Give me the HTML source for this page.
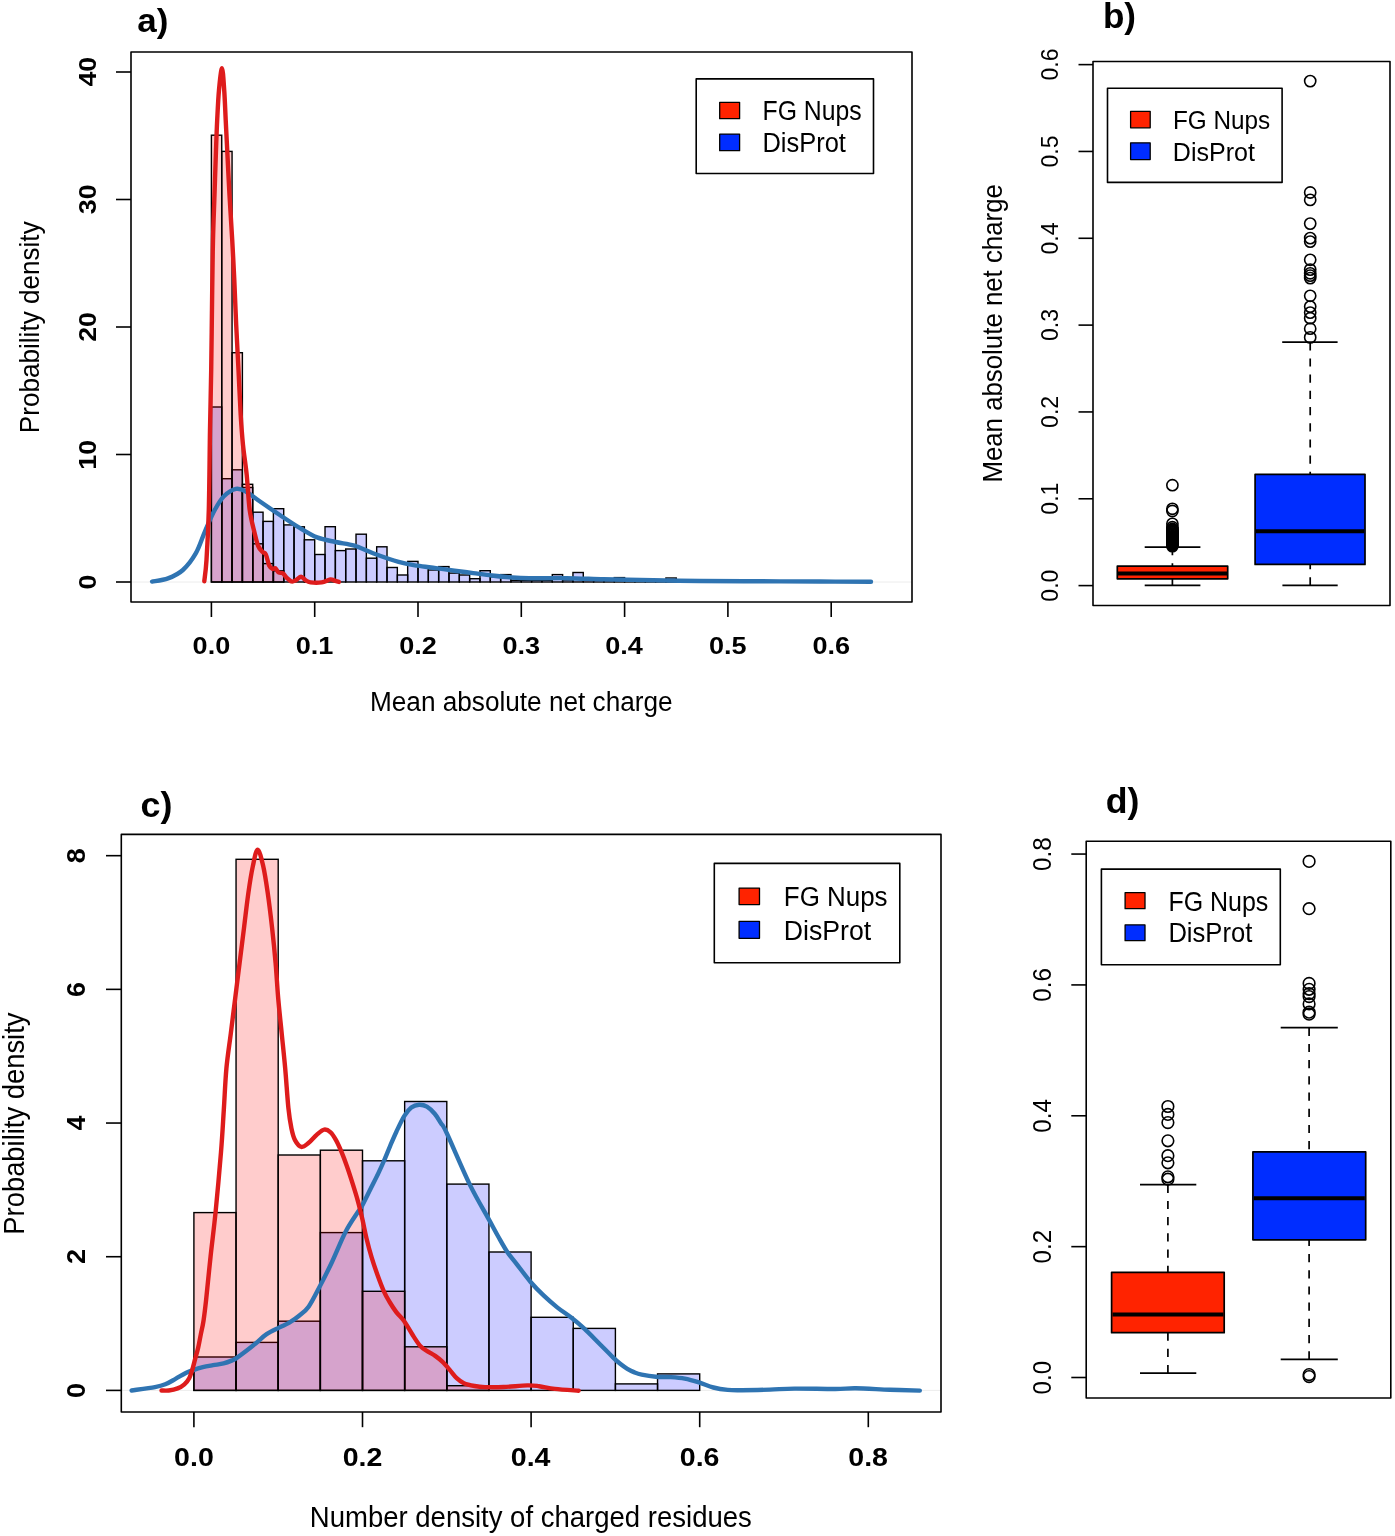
<!DOCTYPE html>
<html><head><meta charset="utf-8"><title>Figure</title>
<style>
html,body{margin:0;padding:0;background:#fff;}
body{width:1395px;height:1536px;overflow:hidden;}
svg{display:block;font-family:"Liberation Sans", sans-serif;-webkit-font-smoothing:antialiased;will-change:transform;}
</style></head>
<body>
<svg width="1395" height="1536" viewBox="0 0 1395 1536">
<rect x="0" y="0" width="1395" height="1536" fill="#fff"/>
<line x1="131.00" y1="582.00" x2="912.00" y2="582.00" stroke="#ececec" stroke-width="1" stroke-linecap="butt"/>
<rect x="211.40" y="407.00" width="10.33" height="175.00" fill="rgba(0,0,255,0.2)" stroke="#000" stroke-width="1.4"/>
<rect x="221.73" y="478.70" width="10.33" height="103.30" fill="rgba(0,0,255,0.2)" stroke="#000" stroke-width="1.4"/>
<rect x="232.06" y="469.80" width="10.33" height="112.20" fill="rgba(0,0,255,0.2)" stroke="#000" stroke-width="1.4"/>
<rect x="242.39" y="487.50" width="10.33" height="94.50" fill="rgba(0,0,255,0.2)" stroke="#000" stroke-width="1.4"/>
<rect x="252.72" y="512.20" width="10.33" height="69.80" fill="rgba(0,0,255,0.2)" stroke="#000" stroke-width="1.4"/>
<rect x="263.05" y="521.40" width="10.33" height="60.60" fill="rgba(0,0,255,0.2)" stroke="#000" stroke-width="1.4"/>
<rect x="273.38" y="508.70" width="10.33" height="73.30" fill="rgba(0,0,255,0.2)" stroke="#000" stroke-width="1.4"/>
<rect x="283.71" y="524.90" width="10.33" height="57.10" fill="rgba(0,0,255,0.2)" stroke="#000" stroke-width="1.4"/>
<rect x="294.04" y="526.80" width="10.33" height="55.20" fill="rgba(0,0,255,0.2)" stroke="#000" stroke-width="1.4"/>
<rect x="304.37" y="539.80" width="10.33" height="42.20" fill="rgba(0,0,255,0.2)" stroke="#000" stroke-width="1.4"/>
<rect x="314.70" y="554.50" width="10.33" height="27.50" fill="rgba(0,0,255,0.2)" stroke="#000" stroke-width="1.4"/>
<rect x="325.03" y="526.70" width="10.33" height="55.30" fill="rgba(0,0,255,0.2)" stroke="#000" stroke-width="1.4"/>
<rect x="335.36" y="550.60" width="10.33" height="31.40" fill="rgba(0,0,255,0.2)" stroke="#000" stroke-width="1.4"/>
<rect x="345.69" y="549.00" width="10.33" height="33.00" fill="rgba(0,0,255,0.2)" stroke="#000" stroke-width="1.4"/>
<rect x="356.02" y="534.20" width="10.33" height="47.80" fill="rgba(0,0,255,0.2)" stroke="#000" stroke-width="1.4"/>
<rect x="366.35" y="558.20" width="10.33" height="23.80" fill="rgba(0,0,255,0.2)" stroke="#000" stroke-width="1.4"/>
<rect x="376.68" y="546.80" width="10.33" height="35.20" fill="rgba(0,0,255,0.2)" stroke="#000" stroke-width="1.4"/>
<rect x="387.01" y="567.50" width="10.33" height="14.50" fill="rgba(0,0,255,0.2)" stroke="#000" stroke-width="1.4"/>
<rect x="397.34" y="575.00" width="10.33" height="7.00" fill="rgba(0,0,255,0.2)" stroke="#000" stroke-width="1.4"/>
<rect x="407.67" y="561.40" width="10.33" height="20.60" fill="rgba(0,0,255,0.2)" stroke="#000" stroke-width="1.4"/>
<rect x="418.00" y="565.70" width="10.33" height="16.30" fill="rgba(0,0,255,0.2)" stroke="#000" stroke-width="1.4"/>
<rect x="428.33" y="570.00" width="10.33" height="12.00" fill="rgba(0,0,255,0.2)" stroke="#000" stroke-width="1.4"/>
<rect x="438.66" y="566.60" width="10.33" height="15.40" fill="rgba(0,0,255,0.2)" stroke="#000" stroke-width="1.4"/>
<rect x="448.99" y="573.10" width="10.33" height="8.90" fill="rgba(0,0,255,0.2)" stroke="#000" stroke-width="1.4"/>
<rect x="459.32" y="575.00" width="10.33" height="7.00" fill="rgba(0,0,255,0.2)" stroke="#000" stroke-width="1.4"/>
<rect x="469.65" y="578.70" width="10.33" height="3.30" fill="rgba(0,0,255,0.2)" stroke="#000" stroke-width="1.4"/>
<rect x="479.98" y="570.70" width="10.33" height="11.30" fill="rgba(0,0,255,0.2)" stroke="#000" stroke-width="1.4"/>
<rect x="490.31" y="576.80" width="10.33" height="5.20" fill="rgba(0,0,255,0.2)" stroke="#000" stroke-width="1.4"/>
<rect x="500.64" y="574.60" width="10.33" height="7.40" fill="rgba(0,0,255,0.2)" stroke="#000" stroke-width="1.4"/>
<rect x="510.97" y="580.30" width="10.33" height="1.70" fill="rgba(0,0,255,0.2)" stroke="#000" stroke-width="1.4"/>
<rect x="521.30" y="580.30" width="10.33" height="1.70" fill="rgba(0,0,255,0.2)" stroke="#000" stroke-width="1.4"/>
<rect x="531.63" y="580.30" width="10.33" height="1.70" fill="rgba(0,0,255,0.2)" stroke="#000" stroke-width="1.4"/>
<rect x="541.96" y="580.30" width="10.33" height="1.70" fill="rgba(0,0,255,0.2)" stroke="#000" stroke-width="1.4"/>
<rect x="552.29" y="574.60" width="10.33" height="7.40" fill="rgba(0,0,255,0.2)" stroke="#000" stroke-width="1.4"/>
<rect x="562.62" y="580.00" width="10.33" height="2.00" fill="rgba(0,0,255,0.2)" stroke="#000" stroke-width="1.4"/>
<rect x="572.95" y="572.50" width="10.33" height="9.50" fill="rgba(0,0,255,0.2)" stroke="#000" stroke-width="1.4"/>
<rect x="583.28" y="580.30" width="10.33" height="1.70" fill="rgba(0,0,255,0.2)" stroke="#000" stroke-width="1.4"/>
<rect x="593.61" y="580.30" width="10.33" height="1.70" fill="rgba(0,0,255,0.2)" stroke="#000" stroke-width="1.4"/>
<rect x="603.94" y="580.30" width="10.33" height="1.70" fill="rgba(0,0,255,0.2)" stroke="#000" stroke-width="1.4"/>
<rect x="614.27" y="577.60" width="10.33" height="4.40" fill="rgba(0,0,255,0.2)" stroke="#000" stroke-width="1.4"/>
<rect x="624.60" y="580.50" width="10.33" height="1.50" fill="rgba(0,0,255,0.2)" stroke="#000" stroke-width="1.4"/>
<rect x="634.93" y="580.50" width="10.33" height="1.50" fill="rgba(0,0,255,0.2)" stroke="#000" stroke-width="1.4"/>
<rect x="645.26" y="580.50" width="10.33" height="1.50" fill="rgba(0,0,255,0.2)" stroke="#000" stroke-width="1.4"/>
<rect x="655.59" y="580.50" width="10.33" height="1.50" fill="rgba(0,0,255,0.2)" stroke="#000" stroke-width="1.4"/>
<rect x="665.92" y="578.00" width="10.33" height="4.00" fill="rgba(0,0,255,0.2)" stroke="#000" stroke-width="1.4"/>
<rect x="211.40" y="135.20" width="10.33" height="446.80" fill="rgba(255,0,0,0.2)" stroke="#000" stroke-width="1.4"/>
<rect x="221.73" y="151.40" width="10.33" height="430.60" fill="rgba(255,0,0,0.2)" stroke="#000" stroke-width="1.4"/>
<rect x="232.06" y="352.70" width="10.33" height="229.30" fill="rgba(255,0,0,0.2)" stroke="#000" stroke-width="1.4"/>
<rect x="242.39" y="484.30" width="10.33" height="97.70" fill="rgba(255,0,0,0.2)" stroke="#000" stroke-width="1.4"/>
<rect x="252.72" y="543.80" width="10.33" height="38.20" fill="rgba(255,0,0,0.2)" stroke="#000" stroke-width="1.4"/>
<rect x="263.05" y="563.60" width="10.33" height="18.40" fill="rgba(255,0,0,0.2)" stroke="#000" stroke-width="1.4"/>
<rect x="273.38" y="570.80" width="10.33" height="11.20" fill="rgba(255,0,0,0.2)" stroke="#000" stroke-width="1.4"/>
<path d="M152.10,581.60 C154.75,581.07 162.87,580.33 168.00,578.40 C173.13,576.47 178.25,574.20 182.90,570.00 C187.55,565.80 192.18,559.73 195.90,553.20 C199.62,546.67 202.08,537.95 205.20,530.80 C208.32,523.65 211.48,516.05 214.60,510.30 C217.72,504.55 220.33,499.87 223.90,496.30 C227.47,492.73 232.28,489.67 236.00,488.90 C239.72,488.13 242.32,489.68 246.20,491.70 C250.08,493.72 253.70,497.12 259.30,501.00 C264.90,504.88 273.28,510.65 279.80,515.00 C286.32,519.35 292.18,523.37 298.40,527.10 C304.62,530.83 310.88,534.92 317.10,537.40 C323.32,539.88 329.48,540.62 335.70,542.00 C341.92,543.38 348.18,543.83 354.40,545.70 C360.62,547.57 365.63,550.50 373.00,553.20 C380.37,555.90 391.22,559.82 398.60,561.90 C405.98,563.98 411.08,564.67 417.30,565.70 C423.52,566.73 429.68,567.27 435.90,568.10 C442.12,568.93 448.38,569.87 454.60,570.70 C460.82,571.53 467.00,572.30 473.20,573.10 C479.40,573.90 485.58,574.78 491.80,575.50 C498.02,576.22 504.28,576.93 510.50,577.40 C516.72,577.87 519.78,578.17 529.10,578.30 C538.42,578.43 553.97,578.03 566.40,578.20 C578.83,578.37 591.43,579.00 603.70,579.30 C615.97,579.60 623.95,579.72 640.00,580.00 C656.05,580.28 680.00,580.78 700.00,581.00 C720.00,581.22 740.00,581.22 760.00,581.30 C780.00,581.38 801.50,581.42 820.00,581.50 C838.50,581.58 862.50,581.75 871.00,581.80" fill="none" stroke="#2F74B2" stroke-width="4.4" stroke-linecap="round" stroke-linejoin="round"/>
<path d="M204.30,581.20 C204.67,577.67 205.75,571.87 206.50,560.00 C207.25,548.13 208.22,531.67 208.80,510.00 C209.38,488.33 209.60,453.33 210.00,430.00 C210.40,406.67 210.83,393.33 211.20,370.00 C211.57,346.67 211.90,311.72 212.20,290.00 C212.50,268.28 212.62,255.57 213.00,239.70 C213.38,223.83 214.00,209.77 214.50,194.80 C215.00,179.83 215.55,162.38 216.00,149.90 C216.45,137.42 216.70,129.88 217.20,119.90 C217.70,109.92 218.20,98.62 219.00,90.00 C219.80,81.38 221.13,68.20 222.00,68.20 C222.87,68.20 223.58,81.38 224.20,90.00 C224.82,98.62 225.20,109.92 225.70,119.90 C226.20,129.88 226.57,137.42 227.20,149.90 C227.83,162.38 228.67,179.83 229.50,194.80 C230.33,209.77 231.40,225.50 232.20,239.70 C233.00,253.90 233.63,265.78 234.30,280.00 C234.97,294.22 235.50,310.00 236.20,325.00 C236.90,340.00 237.75,355.00 238.50,370.00 C239.25,385.00 239.95,402.52 240.70,415.00 C241.45,427.48 242.00,434.92 243.00,444.90 C244.00,454.88 245.58,464.05 246.70,474.90 C247.82,485.75 248.38,500.33 249.70,510.00 C251.02,519.67 253.20,526.93 254.60,532.90 C256.00,538.87 256.80,542.65 258.10,545.80 C259.40,548.95 261.12,550.37 262.40,551.80 C263.68,553.23 264.67,552.10 265.80,554.40 C266.93,556.70 268.05,563.17 269.20,565.60 C270.35,568.03 271.68,568.57 272.70,569.00 C273.72,569.43 274.30,567.62 275.30,568.20 C276.30,568.78 277.42,571.65 278.70,572.50 C279.98,573.35 281.70,572.45 283.00,573.30 C284.30,574.15 285.07,576.23 286.50,577.60 C287.93,578.97 290.03,581.07 291.60,581.50 C293.17,581.93 294.32,580.98 295.90,580.20 C297.48,579.42 299.52,576.80 301.10,576.80 C302.68,576.80 303.83,579.27 305.40,580.20 C306.97,581.13 307.78,582.03 310.50,582.40 C313.22,582.77 318.40,582.90 321.70,582.40 C325.00,581.90 328.15,579.70 330.30,579.40 C332.45,579.10 333.17,580.18 334.60,580.60 C336.03,581.02 338.18,581.68 338.90,581.90" fill="none" stroke="#DE1C1C" stroke-width="4.4" stroke-linecap="round" stroke-linejoin="round"/>
<rect x="131.00" y="52.00" width="781.00" height="550.00" fill="none" stroke="#000" stroke-width="1.6" stroke-linejoin="round"/>
<line x1="116.00" y1="582.00" x2="131.00" y2="582.00" stroke="#000" stroke-width="1.6" stroke-linecap="butt"/>
<line x1="116.00" y1="454.50" x2="131.00" y2="454.50" stroke="#000" stroke-width="1.6" stroke-linecap="butt"/>
<line x1="116.00" y1="327.00" x2="131.00" y2="327.00" stroke="#000" stroke-width="1.6" stroke-linecap="butt"/>
<line x1="116.00" y1="199.50" x2="131.00" y2="199.50" stroke="#000" stroke-width="1.6" stroke-linecap="butt"/>
<line x1="116.00" y1="72.00" x2="131.00" y2="72.00" stroke="#000" stroke-width="1.6" stroke-linecap="butt"/>
<text x="95.9" y="86.6" font-size="24.45" text-anchor="start" font-weight="bold" textLength="29.8" lengthAdjust="spacingAndGlyphs" transform="rotate(-90 95.9 86.6)">40</text>
<text x="95.9" y="589.4" font-size="24.45" text-anchor="start" font-weight="bold" textLength="14.9" lengthAdjust="spacingAndGlyphs" transform="rotate(-90 95.9 589.4)">0</text>
<text x="95.9" y="469.7" font-size="24.45" text-anchor="start" font-weight="bold" textLength="29.8" lengthAdjust="spacingAndGlyphs" transform="rotate(-90 95.9 469.7)">10</text>
<text x="95.9" y="341.8" font-size="24.45" text-anchor="start" font-weight="bold" textLength="29.8" lengthAdjust="spacingAndGlyphs" transform="rotate(-90 95.9 341.8)">20</text>
<text x="95.9" y="214.2" font-size="24.45" text-anchor="start" font-weight="bold" textLength="29.8" lengthAdjust="spacingAndGlyphs" transform="rotate(-90 95.9 214.2)">30</text>
<line x1="211.40" y1="602.00" x2="211.40" y2="617.00" stroke="#000" stroke-width="1.6" stroke-linecap="butt"/>
<line x1="314.70" y1="602.00" x2="314.70" y2="617.00" stroke="#000" stroke-width="1.6" stroke-linecap="butt"/>
<line x1="418.00" y1="602.00" x2="418.00" y2="617.00" stroke="#000" stroke-width="1.6" stroke-linecap="butt"/>
<line x1="521.30" y1="602.00" x2="521.30" y2="617.00" stroke="#000" stroke-width="1.6" stroke-linecap="butt"/>
<line x1="624.60" y1="602.00" x2="624.60" y2="617.00" stroke="#000" stroke-width="1.6" stroke-linecap="butt"/>
<line x1="727.90" y1="602.00" x2="727.90" y2="617.00" stroke="#000" stroke-width="1.6" stroke-linecap="butt"/>
<line x1="831.20" y1="602.00" x2="831.20" y2="617.00" stroke="#000" stroke-width="1.6" stroke-linecap="butt"/>
<text x="192.6" y="653.6" font-size="24.31" text-anchor="start" font-weight="bold" textLength="37.6" lengthAdjust="spacingAndGlyphs">0.0</text>
<text x="295.8" y="653.6" font-size="24.31" text-anchor="start" font-weight="bold" textLength="37.6" lengthAdjust="spacingAndGlyphs">0.1</text>
<text x="399.2" y="653.6" font-size="24.31" text-anchor="start" font-weight="bold" textLength="37.6" lengthAdjust="spacingAndGlyphs">0.2</text>
<text x="502.5" y="653.6" font-size="24.31" text-anchor="start" font-weight="bold" textLength="37.6" lengthAdjust="spacingAndGlyphs">0.3</text>
<text x="605.3" y="653.6" font-size="24.31" text-anchor="start" font-weight="bold" textLength="37.6" lengthAdjust="spacingAndGlyphs">0.4</text>
<text x="709.0" y="653.6" font-size="24.31" text-anchor="start" font-weight="bold" textLength="37.6" lengthAdjust="spacingAndGlyphs">0.5</text>
<text x="812.4" y="653.6" font-size="24.31" text-anchor="start" font-weight="bold" textLength="37.6" lengthAdjust="spacingAndGlyphs">0.6</text>
<text x="370.0" y="711.4" font-size="27.93" text-anchor="start" textLength="302.6" lengthAdjust="spacingAndGlyphs">Mean absolute net charge</text>
<text x="38.7" y="433.2" font-size="27.78" text-anchor="start" textLength="211.9" lengthAdjust="spacingAndGlyphs" transform="rotate(-90 38.7 433.2)">Probability density</text>
<text x="137.3" y="32.3" font-size="33.99" text-anchor="start" font-weight="bold" textLength="31.1" lengthAdjust="spacingAndGlyphs">a)</text>
<rect x="696.20" y="78.90" width="177.30" height="94.60" fill="#fff" stroke="#000" stroke-width="1.6" stroke-linejoin="round"/>
<rect x="719.70" y="102.30" width="19.90" height="16.40" fill="#FF2300" stroke="#000" stroke-width="1.3" stroke-linejoin="round"/>
<rect x="719.70" y="134.10" width="19.90" height="16.60" fill="#002DFF" stroke="#000" stroke-width="1.3" stroke-linejoin="round"/>
<text x="762.5" y="120.3" font-size="26.91" text-anchor="start" textLength="99.1" lengthAdjust="spacingAndGlyphs">FG Nups</text>
<text x="762.4" y="151.9" font-size="26.91" text-anchor="start" textLength="83.5" lengthAdjust="spacingAndGlyphs">DisProt</text>
<line x1="1172.40" y1="547.10" x2="1172.40" y2="566.00" stroke="#000" stroke-width="1.7" stroke-linecap="butt" stroke-dasharray="8.2,8"/>
<line x1="1172.40" y1="578.80" x2="1172.40" y2="585.40" stroke="#000" stroke-width="1.7" stroke-linecap="butt"/>
<rect x="1117.30" y="566.20" width="110.40" height="12.60" fill="#FF2300" stroke="#000" stroke-width="1.7" stroke-linejoin="round"/>
<line x1="1118.00" y1="573.50" x2="1227.00" y2="573.50" stroke="#000" stroke-width="4.0" stroke-linecap="butt"/>
<line x1="1144.70" y1="547.10" x2="1200.40" y2="547.10" stroke="#000" stroke-width="1.8" stroke-linecap="butt"/>
<line x1="1144.70" y1="585.40" x2="1200.40" y2="585.40" stroke="#000" stroke-width="1.8" stroke-linecap="butt"/>
<circle cx="1172.40" cy="485.20" r="5.6" fill="none" stroke="#000" stroke-width="1.6"/>
<circle cx="1172.40" cy="508.80" r="5.6" fill="none" stroke="#000" stroke-width="1.6"/>
<circle cx="1172.40" cy="511.00" r="5.6" fill="none" stroke="#000" stroke-width="1.6"/>
<circle cx="1172.40" cy="523.80" r="5.6" fill="none" stroke="#000" stroke-width="1.6"/>
<circle cx="1172.40" cy="527.20" r="5.6" fill="none" stroke="#000" stroke-width="1.6"/>
<circle cx="1172.40" cy="529.00" r="5.6" fill="none" stroke="#000" stroke-width="1.6"/>
<circle cx="1172.40" cy="529.90" r="5.6" fill="none" stroke="#000" stroke-width="1.6"/>
<circle cx="1172.40" cy="530.80" r="5.6" fill="none" stroke="#000" stroke-width="1.6"/>
<circle cx="1172.40" cy="531.70" r="5.6" fill="none" stroke="#000" stroke-width="1.6"/>
<circle cx="1172.40" cy="532.60" r="5.6" fill="none" stroke="#000" stroke-width="1.6"/>
<circle cx="1172.40" cy="533.50" r="5.6" fill="none" stroke="#000" stroke-width="1.6"/>
<circle cx="1172.40" cy="534.40" r="5.6" fill="none" stroke="#000" stroke-width="1.6"/>
<circle cx="1172.40" cy="535.30" r="5.6" fill="none" stroke="#000" stroke-width="1.6"/>
<circle cx="1172.40" cy="536.20" r="5.6" fill="none" stroke="#000" stroke-width="1.6"/>
<circle cx="1172.40" cy="537.10" r="5.6" fill="none" stroke="#000" stroke-width="1.6"/>
<circle cx="1172.40" cy="538.00" r="5.6" fill="none" stroke="#000" stroke-width="1.6"/>
<circle cx="1172.40" cy="538.90" r="5.6" fill="none" stroke="#000" stroke-width="1.6"/>
<circle cx="1172.40" cy="539.80" r="5.6" fill="none" stroke="#000" stroke-width="1.6"/>
<circle cx="1172.40" cy="540.70" r="5.6" fill="none" stroke="#000" stroke-width="1.6"/>
<circle cx="1172.40" cy="541.60" r="5.6" fill="none" stroke="#000" stroke-width="1.6"/>
<circle cx="1172.40" cy="542.50" r="5.6" fill="none" stroke="#000" stroke-width="1.6"/>
<circle cx="1172.40" cy="543.40" r="5.6" fill="none" stroke="#000" stroke-width="1.6"/>
<circle cx="1172.40" cy="544.30" r="5.6" fill="none" stroke="#000" stroke-width="1.6"/>
<circle cx="1172.40" cy="545.20" r="5.6" fill="none" stroke="#000" stroke-width="1.6"/>
<circle cx="1172.40" cy="546.10" r="5.6" fill="none" stroke="#000" stroke-width="1.6"/>
<line x1="1310.20" y1="342.20" x2="1310.20" y2="474.30" stroke="#000" stroke-width="1.7" stroke-linecap="butt" stroke-dasharray="8.2,8"/>
<line x1="1310.20" y1="585.40" x2="1310.20" y2="564.40" stroke="#000" stroke-width="1.7" stroke-linecap="butt" stroke-dasharray="8.2,8"/>
<rect x="1255.10" y="474.30" width="109.90" height="90.10" fill="#002DFF" stroke="#000" stroke-width="1.7" stroke-linejoin="round"/>
<line x1="1256.00" y1="531.20" x2="1364.00" y2="531.20" stroke="#000" stroke-width="4.0" stroke-linecap="butt"/>
<line x1="1282.20" y1="342.20" x2="1337.60" y2="342.20" stroke="#000" stroke-width="1.8" stroke-linecap="butt"/>
<line x1="1282.40" y1="585.40" x2="1337.70" y2="585.40" stroke="#000" stroke-width="1.8" stroke-linecap="butt"/>
<circle cx="1310.20" cy="81.10" r="5.6" fill="none" stroke="#000" stroke-width="1.6"/>
<circle cx="1310.20" cy="192.50" r="5.6" fill="none" stroke="#000" stroke-width="1.6"/>
<circle cx="1310.20" cy="199.90" r="5.6" fill="none" stroke="#000" stroke-width="1.6"/>
<circle cx="1310.20" cy="223.60" r="5.6" fill="none" stroke="#000" stroke-width="1.6"/>
<circle cx="1310.20" cy="238.10" r="5.6" fill="none" stroke="#000" stroke-width="1.6"/>
<circle cx="1310.20" cy="241.60" r="5.6" fill="none" stroke="#000" stroke-width="1.6"/>
<circle cx="1310.20" cy="259.80" r="5.6" fill="none" stroke="#000" stroke-width="1.6"/>
<circle cx="1310.20" cy="269.60" r="5.6" fill="none" stroke="#000" stroke-width="1.6"/>
<circle cx="1310.20" cy="273.30" r="5.6" fill="none" stroke="#000" stroke-width="1.6"/>
<circle cx="1310.20" cy="275.60" r="5.6" fill="none" stroke="#000" stroke-width="1.6"/>
<circle cx="1310.20" cy="278.10" r="5.6" fill="none" stroke="#000" stroke-width="1.6"/>
<circle cx="1310.20" cy="295.80" r="5.6" fill="none" stroke="#000" stroke-width="1.6"/>
<circle cx="1310.20" cy="306.60" r="5.6" fill="none" stroke="#000" stroke-width="1.6"/>
<circle cx="1310.20" cy="312.60" r="5.6" fill="none" stroke="#000" stroke-width="1.6"/>
<circle cx="1310.20" cy="318.20" r="5.6" fill="none" stroke="#000" stroke-width="1.6"/>
<circle cx="1310.20" cy="328.70" r="5.6" fill="none" stroke="#000" stroke-width="1.6"/>
<circle cx="1310.20" cy="337.40" r="5.6" fill="none" stroke="#000" stroke-width="1.6"/>
<rect x="1093.00" y="61.50" width="297.00" height="544.00" fill="none" stroke="#000" stroke-width="1.6" stroke-linejoin="round"/>
<line x1="1078.50" y1="585.60" x2="1093.00" y2="585.60" stroke="#000" stroke-width="1.6" stroke-linecap="butt"/>
<line x1="1078.50" y1="498.77" x2="1093.00" y2="498.77" stroke="#000" stroke-width="1.6" stroke-linecap="butt"/>
<line x1="1078.50" y1="411.94" x2="1093.00" y2="411.94" stroke="#000" stroke-width="1.6" stroke-linecap="butt"/>
<line x1="1078.50" y1="325.11" x2="1093.00" y2="325.11" stroke="#000" stroke-width="1.6" stroke-linecap="butt"/>
<line x1="1078.50" y1="238.28" x2="1093.00" y2="238.28" stroke="#000" stroke-width="1.6" stroke-linecap="butt"/>
<line x1="1078.50" y1="151.45" x2="1093.00" y2="151.45" stroke="#000" stroke-width="1.6" stroke-linecap="butt"/>
<line x1="1078.50" y1="64.62" x2="1093.00" y2="64.62" stroke="#000" stroke-width="1.6" stroke-linecap="butt"/>
<text x="1058.3" y="341.1" font-size="24.45" text-anchor="start" textLength="32.1" lengthAdjust="spacingAndGlyphs" transform="rotate(-90 1058.3 341.1)">0.3</text>
<text x="1058.3" y="601.7" font-size="24.45" text-anchor="start" textLength="32.1" lengthAdjust="spacingAndGlyphs" transform="rotate(-90 1058.3 601.7)">0.0</text>
<text x="1058.3" y="514.7" font-size="24.45" text-anchor="start" textLength="32.1" lengthAdjust="spacingAndGlyphs" transform="rotate(-90 1058.3 514.7)">0.1</text>
<text x="1058.3" y="427.9" font-size="24.45" text-anchor="start" textLength="32.1" lengthAdjust="spacingAndGlyphs" transform="rotate(-90 1058.3 427.9)">0.2</text>
<text x="1058.3" y="254.5" font-size="24.45" text-anchor="start" textLength="32.1" lengthAdjust="spacingAndGlyphs" transform="rotate(-90 1058.3 254.5)">0.4</text>
<text x="1058.3" y="167.5" font-size="24.45" text-anchor="start" textLength="32.1" lengthAdjust="spacingAndGlyphs" transform="rotate(-90 1058.3 167.5)">0.5</text>
<text x="1058.3" y="80.6" font-size="24.45" text-anchor="start" textLength="32.1" lengthAdjust="spacingAndGlyphs" transform="rotate(-90 1058.3 80.6)">0.6</text>
<text x="1001.8" y="482.6" font-size="27.2" text-anchor="start" textLength="298.5" lengthAdjust="spacingAndGlyphs" transform="rotate(-90 1001.8 482.6)">Mean absolute net charge</text>
<text x="1102.9" y="28.4" font-size="34.42" text-anchor="start" font-weight="bold" textLength="33.1" lengthAdjust="spacingAndGlyphs">b)</text>
<rect x="1107.50" y="88.20" width="174.60" height="94.20" fill="#fff" stroke="#000" stroke-width="1.6" stroke-linejoin="round"/>
<rect x="1130.60" y="111.30" width="19.60" height="16.50" fill="#FF2300" stroke="#000" stroke-width="1.3" stroke-linejoin="round"/>
<rect x="1130.60" y="142.80" width="19.60" height="16.80" fill="#002DFF" stroke="#000" stroke-width="1.3" stroke-linejoin="round"/>
<text x="1172.9" y="128.9" font-size="26.18" text-anchor="start" textLength="97.3" lengthAdjust="spacingAndGlyphs">FG Nups</text>
<text x="1172.8" y="160.7" font-size="26.18" text-anchor="start" textLength="82.1" lengthAdjust="spacingAndGlyphs">DisProt</text>
<line x1="121.30" y1="1390.40" x2="941.00" y2="1390.40" stroke="#ececec" stroke-width="1" stroke-linecap="butt"/>
<rect x="193.90" y="1357.00" width="42.15" height="33.40" fill="rgba(0,0,255,0.2)" stroke="#000" stroke-width="1.4"/>
<rect x="236.05" y="1342.40" width="42.15" height="48.00" fill="rgba(0,0,255,0.2)" stroke="#000" stroke-width="1.4"/>
<rect x="278.20" y="1321.20" width="42.15" height="69.20" fill="rgba(0,0,255,0.2)" stroke="#000" stroke-width="1.4"/>
<rect x="320.35" y="1232.60" width="42.15" height="157.80" fill="rgba(0,0,255,0.2)" stroke="#000" stroke-width="1.4"/>
<rect x="362.50" y="1160.80" width="42.15" height="229.60" fill="rgba(0,0,255,0.2)" stroke="#000" stroke-width="1.4"/>
<rect x="404.65" y="1101.50" width="42.15" height="288.90" fill="rgba(0,0,255,0.2)" stroke="#000" stroke-width="1.4"/>
<rect x="446.80" y="1184.10" width="42.15" height="206.30" fill="rgba(0,0,255,0.2)" stroke="#000" stroke-width="1.4"/>
<rect x="488.95" y="1252.00" width="42.15" height="138.40" fill="rgba(0,0,255,0.2)" stroke="#000" stroke-width="1.4"/>
<rect x="531.10" y="1317.30" width="42.15" height="73.10" fill="rgba(0,0,255,0.2)" stroke="#000" stroke-width="1.4"/>
<rect x="573.25" y="1328.40" width="42.15" height="62.00" fill="rgba(0,0,255,0.2)" stroke="#000" stroke-width="1.4"/>
<rect x="615.40" y="1383.90" width="42.15" height="6.50" fill="rgba(0,0,255,0.2)" stroke="#000" stroke-width="1.4"/>
<rect x="657.55" y="1373.90" width="42.15" height="16.50" fill="rgba(0,0,255,0.2)" stroke="#000" stroke-width="1.4"/>
<rect x="193.90" y="1212.60" width="42.15" height="177.80" fill="rgba(255,0,0,0.2)" stroke="#000" stroke-width="1.4"/>
<rect x="236.05" y="859.30" width="42.15" height="531.10" fill="rgba(255,0,0,0.2)" stroke="#000" stroke-width="1.4"/>
<rect x="278.20" y="1155.00" width="42.15" height="235.40" fill="rgba(255,0,0,0.2)" stroke="#000" stroke-width="1.4"/>
<rect x="320.35" y="1150.20" width="42.15" height="240.20" fill="rgba(255,0,0,0.2)" stroke="#000" stroke-width="1.4"/>
<rect x="362.50" y="1291.30" width="42.15" height="99.10" fill="rgba(255,0,0,0.2)" stroke="#000" stroke-width="1.4"/>
<rect x="404.65" y="1346.80" width="42.15" height="43.60" fill="rgba(255,0,0,0.2)" stroke="#000" stroke-width="1.4"/>
<rect x="446.80" y="1385.70" width="42.15" height="4.70" fill="rgba(255,0,0,0.2)" stroke="#000" stroke-width="1.4"/>
<path d="M131.60,1390.50 C135.50,1389.93 149.38,1388.13 155.00,1387.10 C160.62,1386.07 161.88,1385.67 165.30,1384.30 C168.72,1382.93 172.08,1380.78 175.50,1378.90 C178.92,1377.02 182.95,1374.43 185.80,1373.00 C188.65,1371.57 189.77,1371.27 192.60,1370.30 C195.43,1369.33 199.38,1368.05 202.80,1367.20 C206.22,1366.35 209.63,1365.83 213.10,1365.20 C216.57,1364.57 220.42,1364.20 223.60,1363.40 C226.78,1362.60 230.12,1361.25 232.20,1360.40 C234.28,1359.55 233.95,1359.73 236.10,1358.30 C238.25,1356.87 241.80,1354.32 245.10,1351.80 C248.40,1349.28 252.32,1346.13 255.90,1343.20 C259.48,1340.27 262.67,1336.83 266.60,1334.20 C270.53,1331.57 275.72,1329.33 279.50,1327.40 C283.28,1325.47 286.03,1324.55 289.30,1322.60 C292.57,1320.65 295.85,1318.40 299.10,1315.70 C302.35,1313.00 305.32,1311.35 308.80,1306.40 C312.28,1301.45 316.13,1293.40 320.00,1286.00 C323.87,1278.60 327.75,1271.00 332.00,1262.00 C336.25,1253.00 341.18,1240.33 345.50,1232.00 C349.82,1223.67 355.15,1216.33 357.90,1212.00 C360.65,1207.67 359.88,1209.87 362.00,1206.00 C364.12,1202.13 367.87,1194.28 370.60,1188.80 C373.33,1183.32 376.18,1177.73 378.40,1173.10 C380.62,1168.47 381.93,1165.55 383.90,1161.00 C385.87,1156.45 388.12,1150.68 390.20,1145.80 C392.28,1140.92 394.07,1136.65 396.40,1131.70 C398.73,1126.75 401.72,1120.13 404.20,1116.10 C406.68,1112.07 408.82,1109.38 411.30,1107.50 C413.78,1105.62 416.50,1104.93 419.10,1104.80 C421.70,1104.67 424.30,1105.20 426.90,1106.70 C429.50,1108.20 432.37,1111.07 434.70,1113.80 C437.03,1116.53 438.92,1119.93 440.90,1123.10 C442.88,1126.27 441.80,1122.58 446.60,1132.80 C451.40,1143.02 462.68,1170.02 469.70,1184.40 C476.72,1198.78 483.95,1210.42 488.70,1219.10 C493.45,1227.78 495.10,1231.02 498.20,1236.50 C501.30,1241.98 504.25,1247.45 507.30,1252.00 C510.35,1256.55 512.62,1258.80 516.50,1263.80 C520.38,1268.80 526.05,1276.68 530.60,1282.00 C535.15,1287.32 539.32,1291.43 543.80,1295.70 C548.28,1299.97 552.93,1303.95 557.50,1307.60 C562.07,1311.25 566.73,1314.08 571.20,1317.60 C575.67,1321.12 579.72,1324.47 584.30,1328.70 C588.88,1332.93 593.92,1338.23 598.70,1343.00 C603.48,1347.77 609.42,1353.83 613.00,1357.30 C616.58,1360.77 617.82,1361.88 620.20,1363.80 C622.58,1365.72 624.92,1367.37 627.30,1368.80 C629.68,1370.23 632.10,1371.43 634.50,1372.40 C636.90,1373.37 638.12,1373.88 641.70,1374.60 C645.28,1375.32 651.22,1376.28 656.00,1376.70 C660.78,1377.12 665.62,1376.78 670.40,1377.10 C675.18,1377.42 679.93,1377.72 684.70,1378.60 C689.47,1379.48 694.22,1380.92 699.00,1382.40 C703.78,1383.88 708.62,1386.25 713.40,1387.50 C718.18,1388.75 722.93,1389.45 727.70,1389.90 C732.47,1390.35 734.95,1390.25 742.00,1390.20 C749.05,1390.15 761.25,1389.87 770.00,1389.60 C778.75,1389.33 783.62,1388.70 794.50,1388.60 C805.38,1388.50 825.08,1389.05 835.30,1389.00 C845.52,1388.95 846.72,1388.18 855.80,1388.30 C864.88,1388.42 879.13,1389.32 889.80,1389.70 C900.47,1390.08 914.80,1390.45 919.80,1390.60" fill="none" stroke="#2F74B2" stroke-width="4.4" stroke-linecap="round" stroke-linejoin="round"/>
<path d="M161.50,1390.50 C162.70,1390.50 166.02,1390.85 168.70,1390.50 C171.38,1390.15 174.98,1389.43 177.60,1388.40 C180.22,1387.37 182.47,1386.00 184.40,1384.30 C186.33,1382.60 187.83,1380.82 189.20,1378.20 C190.57,1375.58 191.58,1371.90 192.60,1368.60 C193.62,1365.30 194.38,1361.82 195.30,1358.40 C196.22,1354.98 197.18,1352.10 198.10,1348.10 C199.02,1344.10 199.90,1338.95 200.80,1334.40 C201.70,1329.85 202.62,1326.53 203.50,1320.80 C204.38,1315.07 204.92,1310.77 206.10,1300.00 C207.28,1289.23 209.02,1270.88 210.60,1256.20 C212.18,1241.52 213.87,1229.25 215.60,1211.90 C217.33,1194.55 219.63,1169.08 221.00,1152.10 C222.37,1135.12 222.90,1123.93 223.80,1110.00 C224.70,1096.07 225.23,1081.27 226.40,1068.50 C227.57,1055.73 229.33,1045.12 230.80,1033.40 C232.27,1021.68 233.73,1009.93 235.20,998.20 C236.67,986.47 238.13,974.72 239.60,963.00 C241.07,951.28 242.53,939.62 244.00,927.90 C245.47,916.18 246.93,902.95 248.40,892.70 C249.87,882.45 251.25,873.58 252.80,866.40 C254.35,859.22 255.95,849.60 257.70,849.60 C259.45,849.60 261.63,859.22 263.30,866.40 C264.97,873.58 266.23,882.45 267.70,892.70 C269.17,902.95 270.78,916.18 272.10,927.90 C273.42,939.62 274.58,951.28 275.60,963.00 C276.62,974.72 277.18,986.47 278.20,998.20 C279.22,1009.93 280.53,1021.68 281.70,1033.40 C282.87,1045.12 284.08,1056.07 285.20,1068.50 C286.32,1080.93 287.37,1098.05 288.40,1108.00 C289.43,1117.95 290.30,1122.85 291.40,1128.20 C292.50,1133.55 293.33,1136.98 295.00,1140.10 C296.67,1143.22 299.12,1146.45 301.40,1146.90 C303.68,1147.35 306.12,1144.85 308.70,1142.80 C311.28,1140.75 314.32,1136.80 316.90,1134.60 C319.48,1132.40 321.92,1129.98 324.20,1129.60 C326.48,1129.22 328.63,1130.55 330.60,1132.30 C332.57,1134.05 334.18,1136.83 336.00,1140.10 C337.82,1143.37 339.67,1147.50 341.50,1151.90 C343.33,1156.30 345.18,1161.33 347.00,1166.50 C348.82,1171.67 350.58,1177.13 352.40,1182.90 C354.22,1188.67 356.23,1195.03 357.90,1201.10 C359.57,1207.17 360.98,1213.15 362.40,1219.30 C363.82,1225.45 364.85,1231.62 366.40,1238.00 C367.95,1244.38 369.83,1251.40 371.70,1257.60 C373.57,1263.80 375.55,1269.53 377.60,1275.20 C379.65,1280.87 382.05,1287.22 384.00,1291.60 C385.95,1295.98 387.25,1298.08 389.30,1301.50 C391.35,1304.92 393.87,1308.88 396.30,1312.10 C398.73,1315.32 401.00,1316.72 403.90,1320.80 C406.80,1324.88 410.88,1332.30 413.70,1336.60 C416.52,1340.90 418.42,1344.10 420.80,1346.60 C423.18,1349.10 425.60,1350.05 428.00,1351.60 C430.40,1353.15 432.82,1354.22 435.20,1355.90 C437.58,1357.58 439.92,1359.42 442.30,1361.70 C444.68,1363.98 447.10,1366.85 449.50,1369.60 C451.90,1372.35 454.30,1375.93 456.70,1378.20 C459.10,1380.47 460.92,1381.90 463.90,1383.20 C466.88,1384.50 471.08,1385.35 474.60,1386.00 C478.12,1386.65 480.15,1386.93 485.00,1387.10 C489.85,1387.27 496.65,1387.28 503.70,1387.00 C510.75,1386.72 521.40,1385.53 527.30,1385.40 C533.20,1385.27 534.50,1385.62 539.10,1386.20 C543.70,1386.78 548.32,1388.15 554.90,1388.90 C561.48,1389.65 574.65,1390.40 578.60,1390.70" fill="none" stroke="#DE1C1C" stroke-width="4.4" stroke-linecap="round" stroke-linejoin="round"/>
<rect x="121.30" y="834.40" width="819.70" height="577.60" fill="none" stroke="#000" stroke-width="1.6" stroke-linejoin="round"/>
<line x1="106.00" y1="1390.40" x2="121.30" y2="1390.40" stroke="#000" stroke-width="1.6" stroke-linecap="butt"/>
<line x1="106.00" y1="1256.72" x2="121.30" y2="1256.72" stroke="#000" stroke-width="1.6" stroke-linecap="butt"/>
<line x1="106.00" y1="1123.04" x2="121.30" y2="1123.04" stroke="#000" stroke-width="1.6" stroke-linecap="butt"/>
<line x1="106.00" y1="989.36" x2="121.30" y2="989.36" stroke="#000" stroke-width="1.6" stroke-linecap="butt"/>
<line x1="106.00" y1="855.68" x2="121.30" y2="855.68" stroke="#000" stroke-width="1.6" stroke-linecap="butt"/>
<text x="84.6" y="1130.6" font-size="25.75" text-anchor="start" font-weight="bold" textLength="15.0" lengthAdjust="spacingAndGlyphs" transform="rotate(-90 84.6 1130.6)">4</text>
<text x="84.9" y="1397.9" font-size="25.75" text-anchor="start" font-weight="bold" textLength="15.0" lengthAdjust="spacingAndGlyphs" transform="rotate(-90 84.9 1397.9)">0</text>
<text x="84.9" y="1264.1" font-size="25.75" text-anchor="start" font-weight="bold" textLength="15.0" lengthAdjust="spacingAndGlyphs" transform="rotate(-90 84.9 1264.1)">2</text>
<text x="84.9" y="996.9" font-size="25.75" text-anchor="start" font-weight="bold" textLength="15.0" lengthAdjust="spacingAndGlyphs" transform="rotate(-90 84.9 996.9)">6</text>
<text x="84.9" y="863.2" font-size="25.75" text-anchor="start" font-weight="bold" textLength="15.0" lengthAdjust="spacingAndGlyphs" transform="rotate(-90 84.9 863.2)">8</text>
<line x1="193.90" y1="1412.00" x2="193.90" y2="1427.20" stroke="#000" stroke-width="1.6" stroke-linecap="butt"/>
<line x1="362.50" y1="1412.00" x2="362.50" y2="1427.20" stroke="#000" stroke-width="1.6" stroke-linecap="butt"/>
<line x1="531.10" y1="1412.00" x2="531.10" y2="1427.20" stroke="#000" stroke-width="1.6" stroke-linecap="butt"/>
<line x1="699.70" y1="1412.00" x2="699.70" y2="1427.20" stroke="#000" stroke-width="1.6" stroke-linecap="butt"/>
<line x1="868.30" y1="1412.00" x2="868.30" y2="1427.20" stroke="#000" stroke-width="1.6" stroke-linecap="butt"/>
<text x="342.7" y="1466.0" font-size="26.01" text-anchor="start" font-weight="bold" textLength="39.7" lengthAdjust="spacingAndGlyphs">0.2</text>
<text x="174.1" y="1466.0" font-size="26.01" text-anchor="start" font-weight="bold" textLength="39.7" lengthAdjust="spacingAndGlyphs">0.0</text>
<text x="510.8" y="1466.0" font-size="26.01" text-anchor="start" font-weight="bold" textLength="39.7" lengthAdjust="spacingAndGlyphs">0.4</text>
<text x="679.8" y="1466.0" font-size="26.01" text-anchor="start" font-weight="bold" textLength="39.7" lengthAdjust="spacingAndGlyphs">0.6</text>
<text x="848.3" y="1466.0" font-size="26.01" text-anchor="start" font-weight="bold" textLength="39.7" lengthAdjust="spacingAndGlyphs">0.8</text>
<text x="309.8" y="1526.6" font-size="28.95" text-anchor="start" textLength="442.0" lengthAdjust="spacingAndGlyphs">Number density of charged residues</text>
<text x="24.5" y="1234.7" font-size="28.8" text-anchor="start" textLength="222.2" lengthAdjust="spacingAndGlyphs" transform="rotate(-90 24.5 1234.7)">Probability density</text>
<text x="140.6" y="817.4" font-size="34.32" text-anchor="start" font-weight="bold" textLength="31.9" lengthAdjust="spacingAndGlyphs">c)</text>
<rect x="714.30" y="863.40" width="185.50" height="99.40" fill="#fff" stroke="#000" stroke-width="1.6" stroke-linejoin="round"/>
<rect x="739.10" y="888.10" width="20.40" height="16.50" fill="#FF2300" stroke="#000" stroke-width="1.3" stroke-linejoin="round"/>
<rect x="739.10" y="921.30" width="20.40" height="17.00" fill="#002DFF" stroke="#000" stroke-width="1.3" stroke-linejoin="round"/>
<text x="783.8" y="906.4" font-size="28.22" text-anchor="start" textLength="103.8" lengthAdjust="spacingAndGlyphs">FG Nups</text>
<text x="783.7" y="939.7" font-size="28.22" text-anchor="start" textLength="87.5" lengthAdjust="spacingAndGlyphs">DisProt</text>
<line x1="1167.90" y1="1184.70" x2="1167.90" y2="1272.30" stroke="#000" stroke-width="1.7" stroke-linecap="butt" stroke-dasharray="8.2,8"/>
<line x1="1167.90" y1="1373.10" x2="1167.90" y2="1332.70" stroke="#000" stroke-width="1.7" stroke-linecap="butt" stroke-dasharray="8.2,8"/>
<rect x="1111.60" y="1272.30" width="112.60" height="60.40" fill="#FF2300" stroke="#000" stroke-width="1.7" stroke-linejoin="round"/>
<line x1="1112.50" y1="1314.50" x2="1223.50" y2="1314.50" stroke="#000" stroke-width="4.0" stroke-linecap="butt"/>
<line x1="1140.00" y1="1184.70" x2="1196.30" y2="1184.70" stroke="#000" stroke-width="1.8" stroke-linecap="butt"/>
<line x1="1140.00" y1="1373.10" x2="1196.30" y2="1373.10" stroke="#000" stroke-width="1.8" stroke-linecap="butt"/>
<circle cx="1167.90" cy="1106.50" r="5.8" fill="none" stroke="#000" stroke-width="1.6"/>
<circle cx="1167.90" cy="1114.40" r="5.8" fill="none" stroke="#000" stroke-width="1.6"/>
<circle cx="1167.90" cy="1122.60" r="5.8" fill="none" stroke="#000" stroke-width="1.6"/>
<circle cx="1167.90" cy="1140.80" r="5.8" fill="none" stroke="#000" stroke-width="1.6"/>
<circle cx="1167.90" cy="1155.70" r="5.8" fill="none" stroke="#000" stroke-width="1.6"/>
<circle cx="1167.90" cy="1162.80" r="5.8" fill="none" stroke="#000" stroke-width="1.6"/>
<circle cx="1167.90" cy="1176.80" r="5.8" fill="none" stroke="#000" stroke-width="1.6"/>
<circle cx="1167.90" cy="1179.20" r="5.8" fill="none" stroke="#000" stroke-width="1.6"/>
<line x1="1309.10" y1="1027.70" x2="1309.10" y2="1151.90" stroke="#000" stroke-width="1.7" stroke-linecap="butt" stroke-dasharray="8.2,8"/>
<line x1="1309.10" y1="1359.40" x2="1309.10" y2="1239.80" stroke="#000" stroke-width="1.7" stroke-linecap="butt" stroke-dasharray="8.2,8"/>
<rect x="1252.90" y="1151.90" width="112.80" height="87.90" fill="#002DFF" stroke="#000" stroke-width="1.7" stroke-linejoin="round"/>
<line x1="1253.80" y1="1198.20" x2="1364.80" y2="1198.20" stroke="#000" stroke-width="4.0" stroke-linecap="butt"/>
<line x1="1280.70" y1="1027.70" x2="1337.80" y2="1027.70" stroke="#000" stroke-width="1.8" stroke-linecap="butt"/>
<line x1="1280.70" y1="1359.40" x2="1337.80" y2="1359.40" stroke="#000" stroke-width="1.8" stroke-linecap="butt"/>
<circle cx="1309.10" cy="861.40" r="5.8" fill="none" stroke="#000" stroke-width="1.6"/>
<circle cx="1309.10" cy="908.70" r="5.8" fill="none" stroke="#000" stroke-width="1.6"/>
<circle cx="1309.10" cy="983.40" r="5.8" fill="none" stroke="#000" stroke-width="1.6"/>
<circle cx="1309.10" cy="989.30" r="5.8" fill="none" stroke="#000" stroke-width="1.6"/>
<circle cx="1309.10" cy="993.70" r="5.8" fill="none" stroke="#000" stroke-width="1.6"/>
<circle cx="1309.10" cy="996.60" r="5.8" fill="none" stroke="#000" stroke-width="1.6"/>
<circle cx="1309.10" cy="1003.90" r="5.8" fill="none" stroke="#000" stroke-width="1.6"/>
<circle cx="1309.10" cy="1012.20" r="5.8" fill="none" stroke="#000" stroke-width="1.6"/>
<circle cx="1309.10" cy="1014.20" r="5.8" fill="none" stroke="#000" stroke-width="1.6"/>
<circle cx="1309.10" cy="1374.60" r="5.8" fill="none" stroke="#000" stroke-width="1.6"/>
<circle cx="1309.10" cy="1376.60" r="5.8" fill="none" stroke="#000" stroke-width="1.6"/>
<rect x="1086.20" y="841.20" width="304.60" height="556.80" fill="none" stroke="#000" stroke-width="1.6" stroke-linejoin="round"/>
<line x1="1071.30" y1="1377.50" x2="1086.20" y2="1377.50" stroke="#000" stroke-width="1.6" stroke-linecap="butt"/>
<line x1="1071.30" y1="1246.64" x2="1086.20" y2="1246.64" stroke="#000" stroke-width="1.6" stroke-linecap="butt"/>
<line x1="1071.30" y1="1115.78" x2="1086.20" y2="1115.78" stroke="#000" stroke-width="1.6" stroke-linecap="butt"/>
<line x1="1071.30" y1="984.92" x2="1086.20" y2="984.92" stroke="#000" stroke-width="1.6" stroke-linecap="butt"/>
<line x1="1071.30" y1="854.06" x2="1086.20" y2="854.06" stroke="#000" stroke-width="1.6" stroke-linecap="butt"/>
<text x="1051.0" y="1132.8" font-size="24.88" text-anchor="start" textLength="33.7" lengthAdjust="spacingAndGlyphs" transform="rotate(-90 1051.0 1132.8)">0.4</text>
<text x="1051.0" y="1394.4" font-size="24.88" text-anchor="start" textLength="33.7" lengthAdjust="spacingAndGlyphs" transform="rotate(-90 1051.0 1394.4)">0.0</text>
<text x="1051.0" y="1263.4" font-size="24.88" text-anchor="start" textLength="33.7" lengthAdjust="spacingAndGlyphs" transform="rotate(-90 1051.0 1263.4)">0.2</text>
<text x="1051.0" y="1001.8" font-size="24.88" text-anchor="start" textLength="33.7" lengthAdjust="spacingAndGlyphs" transform="rotate(-90 1051.0 1001.8)">0.6</text>
<text x="1051.0" y="870.9" font-size="24.88" text-anchor="start" textLength="33.7" lengthAdjust="spacingAndGlyphs" transform="rotate(-90 1051.0 870.9)">0.8</text>
<text x="1105.7" y="813.2" font-size="34.32" text-anchor="start" font-weight="bold" textLength="33.7" lengthAdjust="spacingAndGlyphs">d)</text>
<rect x="1101.40" y="869.10" width="178.90" height="95.70" fill="#fff" stroke="#000" stroke-width="1.6" stroke-linejoin="round"/>
<rect x="1125.10" y="892.60" width="19.90" height="16.10" fill="#FF2300" stroke="#000" stroke-width="1.3" stroke-linejoin="round"/>
<rect x="1125.10" y="924.90" width="19.90" height="15.80" fill="#002DFF" stroke="#000" stroke-width="1.3" stroke-linejoin="round"/>
<text x="1168.4" y="910.5" font-size="27.64" text-anchor="start" textLength="99.9" lengthAdjust="spacingAndGlyphs">FG Nups</text>
<text x="1168.4" y="942.4" font-size="27.64" text-anchor="start" textLength="83.9" lengthAdjust="spacingAndGlyphs">DisProt</text>
</svg>
</body></html>
